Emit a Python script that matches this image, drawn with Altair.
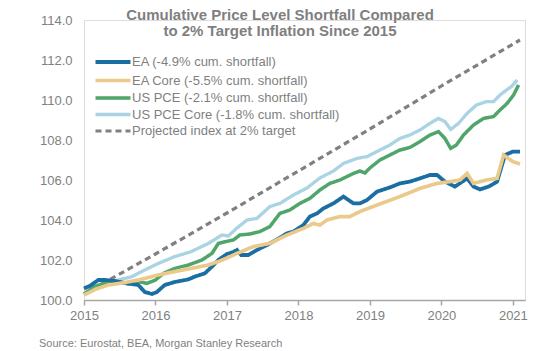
import altair as alt
import pandas as pd

TITLE_LINES = ["Cumulative Price Level Shortfall Compared", "to 2% Target Inflation Since 2015"]
SOURCE = "Source: Eurostat, BEA, Morgan Stanley Research"

SERIES = [
    "EA (-4.9% cum. shortfall)",
    "EA Core (-5.5% cum. shortfall)",
    "US PCE (-2.1% cum. shortfall)",
    "US PCE Core (-1.8% cum. shortfall)",
    "Projected index at 2% target",
]
COLORS = ["#1b6ea1", "#ebc98b", "#4fa56a", "#aad4e3", "#808080"]
DASHES = [[1, 0], [1, 0], [1, 0], [1, 0], [6, 4]]
WIDTHS = [3.8, 3.2, 2.8, 2.8, 2]

YEAR_TICKS = [2015, 2016, 2017, 2018, 2019, 2020, 2021]
LEVEL_TICKS = [100, 102, 104, 106, 108, 110, 112, 114]

# decimal-year dates and index levels
ea_t = [2015.0, 2015.08, 2015.2, 2015.3, 2015.43, 2015.57, 2015.76, 2015.85, 2015.95, 2016.02,
        2016.13, 2016.27, 2016.46, 2016.55, 2016.69, 2016.79, 2016.88, 2017.0, 2017.09, 2017.14,
        2017.2, 2017.3, 2017.42, 2017.56, 2017.7, 2017.84, 2017.93, 2018.07, 2018.16, 2018.26,
        2018.35, 2018.49, 2018.63, 2018.77, 2018.86, 2018.96, 2019.1, 2019.28, 2019.42, 2019.56,
        2019.7, 2019.84, 2019.94, 2020.05, 2020.19, 2020.36, 2020.45, 2020.54, 2020.66, 2020.78,
        2020.89, 2021.0, 2021.1]
ea_v = [100.58, 100.7, 101.0, 101.0, 100.95, 100.85, 100.75, 100.4, 100.3, 100.4,
        100.75, 100.9, 101.03, 101.17, 101.33, 101.67, 102.0, 102.3, 102.4, 102.5,
        102.25, 102.25, 102.5, 102.75, 103.03, 103.33, 103.42, 103.75, 104.17, 104.33,
        104.58, 104.83, 105.17, 104.83, 104.83, 105.0, 105.42, 105.63, 105.83, 105.92,
        106.08, 106.25, 106.25, 105.92, 105.67, 106.08, 105.67, 105.53, 105.67, 105.92,
        107.25, 107.42, 107.42]

eacore_t = [2015.0, 2015.17, 2015.34, 2015.57, 2015.8, 2016.04, 2016.27, 2016.5, 2016.74, 2016.9,
            2017.0, 2017.14, 2017.37, 2017.6, 2017.84, 2018.07, 2018.21, 2018.3, 2018.4, 2018.58,
            2018.72, 2018.86, 2019.1, 2019.42, 2019.7, 2019.94, 2020.12, 2020.26, 2020.36, 2020.45,
            2020.63, 2020.78, 2020.87, 2021.0, 2021.1]
eacore_v = [100.25, 100.55, 100.75, 100.87, 101.03, 101.25, 101.42, 101.58, 101.75, 101.95,
            102.1, 102.33, 102.67, 102.83, 103.25, 103.58, 103.83, 103.75, 104.0, 104.17,
            104.17, 104.42, 104.75, 105.17, 105.58, 105.83, 105.92, 106.0, 106.33, 105.83,
            106.0, 106.08, 107.25, 106.92, 106.8]

pce_t = [2015.0, 2015.15, 2015.34, 2015.48, 2015.62, 2015.76, 2015.88, 2016.0, 2016.11, 2016.27,
         2016.46, 2016.65, 2016.79, 2016.88, 2017.02, 2017.09, 2017.18, 2017.32, 2017.46, 2017.6,
         2017.74, 2017.88, 2018.02, 2018.16, 2018.3, 2018.44, 2018.58, 2018.77, 2018.86, 2018.93,
         2019.0, 2019.14, 2019.28, 2019.42, 2019.56, 2019.7, 2019.84, 2019.96, 2020.05, 2020.13,
         2020.21, 2020.31, 2020.45, 2020.59, 2020.73, 2020.82, 2020.92, 2021.01, 2021.08]
pce_v = [100.3, 100.67, 100.92, 100.92, 100.8, 100.92, 100.83, 101.0, 101.33, 101.58,
         101.75, 102.0, 102.33, 102.83, 102.95, 103.0, 103.25, 103.3, 103.42, 103.67,
         104.33, 104.5, 104.83, 105.08, 105.5, 105.83, 106.0, 106.33, 106.45, 106.35,
         106.6, 107.0, 107.25, 107.5, 107.63, 107.92, 108.25, 108.42, 108.08, 107.58,
         107.75, 108.25, 108.75, 109.08, 109.17, 109.5, 109.83, 110.25, 110.75]

pcecore_t = [2015.0, 2015.23, 2015.48, 2015.67, 2015.85, 2016.04, 2016.27, 2016.5, 2016.74, 2016.93,
             2017.02, 2017.14, 2017.28, 2017.42, 2017.6, 2017.74, 2017.93, 2018.12, 2018.3, 2018.49,
             2018.63, 2018.82, 2018.96, 2019.14, 2019.28, 2019.42, 2019.56, 2019.7, 2019.84, 2019.96,
             2020.05, 2020.13, 2020.24, 2020.36, 2020.49, 2020.63, 2020.73, 2020.82, 2020.94, 2020.98,
             2021.06]
pcecore_v = [100.25, 100.75, 101.0, 101.17, 101.5, 101.83, 102.17, 102.42, 102.83, 103.25,
             103.2, 103.6, 104.0, 104.08, 104.67, 104.83, 105.25, 105.6, 106.1, 106.45,
             106.83, 107.08, 107.17, 107.5, 107.75, 108.08, 108.25, 108.5, 108.83, 109.08,
             108.92, 108.53, 108.83, 109.33, 109.75, 109.92, 109.92, 110.25, 110.58, 110.67,
             111.0]

target_t = [2015.0, 2016.0, 2017.0, 2018.0, 2019.0, 2020.0, 2021.1]
target_v = [100.3, 102.3, 104.35, 106.45, 108.55, 110.7, 113.0]

rows = []
for name, ts, vs in [
    (SERIES[4], target_t, target_v),
    (SERIES[3], pcecore_t, pcecore_v),
    (SERIES[2], pce_t, pce_v),
    (SERIES[0], ea_t, ea_v),
    (SERIES[1], eacore_t, eacore_v),
]:
    rows += [{"series": name, "t": t, "v": v} for t, v in zip(ts, vs)]
df = pd.DataFrame(rows)

GRAY = "#7f7f7f"
FONT = "Liberation Sans"

legend = alt.Legend(
    title=None, orient="none", legendX=22, legendY=35,
    symbolType="M-3.5,0H3.5", symbolSize=100, symbolStrokeWidth=3,
    labelFontSize=13, labelColor=GRAY, labelFont=FONT, labelOffset=12,
    rowPadding=2.5, padding=0, labelLimit=0,
)

lines = alt.Chart(df).mark_line().encode(
    x=alt.X("t:Q", scale=alt.Scale(domain=[2015, 2021.17], nice=False, zero=False),
            axis=alt.Axis(values=YEAR_TICKS, format="d", title=None, grid=False,
                          domainColor="#a6a6a6", domainWidth=1.5, tickColor="#a6a6a6",
                          tickWidth=1.5, tickSize=5, labelFontSize=13, labelColor=GRAY,
                          labelFont=FONT, labelPadding=4, labelFlush=False)),
    y=alt.Y("v:Q", scale=alt.Scale(domain=[100, 114], nice=False, zero=False),
            axis=alt.Axis(values=LEVEL_TICKS, format=".1f", title=None, grid=False,
                          domain=False, ticks=False, labelFontSize=13, labelColor=GRAY,
                          labelFont=FONT, labelPadding=12, labelFlush=False)),
    color=alt.Color("series:N", scale=alt.Scale(domain=SERIES, range=COLORS), legend=legend),
    strokeDash=alt.StrokeDash("series:N", scale=alt.Scale(domain=SERIES, range=DASHES), legend=legend),
    strokeWidth=alt.StrokeWidth("series:N", scale=alt.Scale(domain=SERIES, range=WIDTHS), legend=None),
)

title1 = alt.Chart(pd.DataFrame({"text": [TITLE_LINES[0]]})).mark_text(
    font=FONT, fontSize=15, fontWeight="bold", color=GRAY, align="center", baseline="alphabetic"
).encode(text="text:N", x=alt.value(196), y=alt.value(0))

title2 = alt.Chart(pd.DataFrame({"text": [TITLE_LINES[1]]})).mark_text(
    font=FONT, fontSize=15, fontWeight="bold", color=GRAY, align="center", baseline="alphabetic"
).encode(text="text:N", x=alt.value(196), y=alt.value(16))

source = alt.Chart(pd.DataFrame({"text": [SOURCE]})).mark_text(
    font=FONT, fontSize=11, color=GRAY, align="left", baseline="alphabetic"
).encode(text="text:N", x=alt.value(-45), y=alt.value(327))

chart = alt.layer(lines, title1, title2, source).properties(
    width=441, height=280,
    autosize=alt.AutoSizeParams(type="none"),
    padding={"left": 84, "top": 20, "right": 11, "bottom": 51},
    background="white",
).configure_view(stroke=None).configure(font=FONT)

chart.save("out.html", embed_options={"renderer": "svg", "actions": False})
